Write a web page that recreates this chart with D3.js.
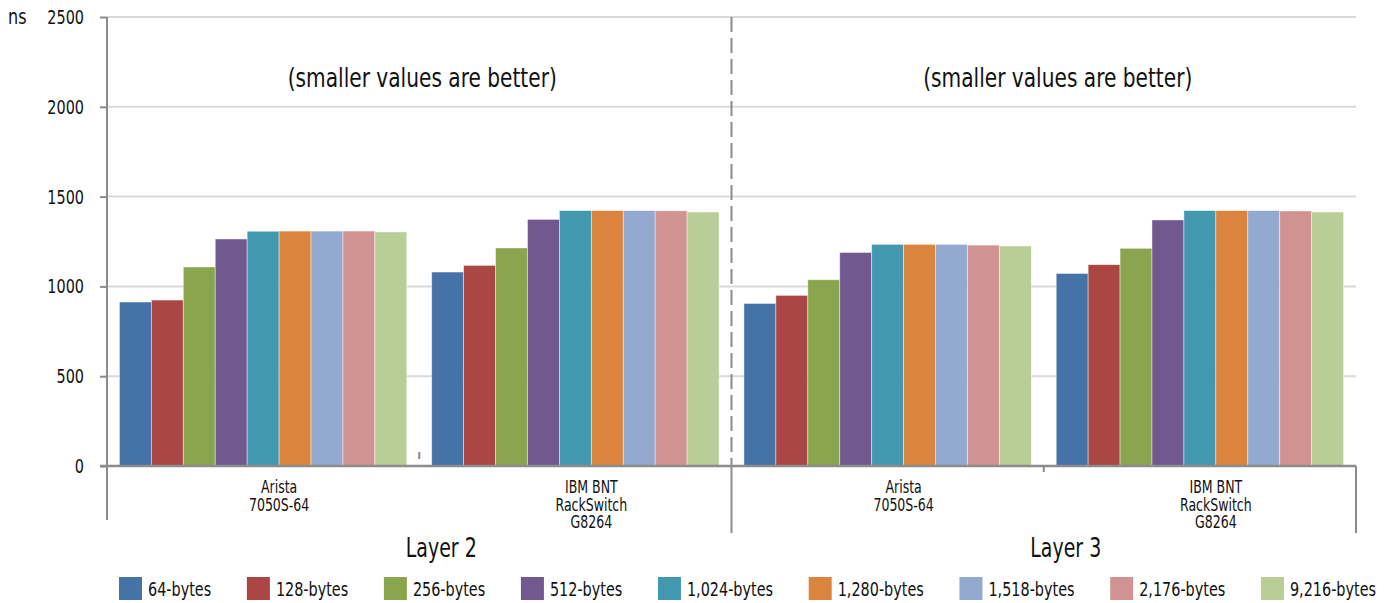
<!DOCTYPE html>
<html>
<head>
<meta charset="utf-8">
<script src="https://cdn.jsdelivr.net/npm/d3@7"></script>
<style>
  html, body { margin: 0; padding: 0; background: #fff; }
  svg { display: block; font-family: "Liberation Sans Narrow", "DejaVu Sans Condensed", "Roboto", sans-serif; }
</style>
</head>
<body>
<svg id="chart" width="1390" height="603"></svg>
<script>
// ---------- DATA ----------
const layers = ["Layer 2", "Layer 3"];
const devices = [["Arista", "7050S-64"], ["IBM BNT", "RackSwitch", "G8264"]];
const categories = ["L2-Arista", "L2-IBM", "L3-Arista", "L3-IBM"];
const series = ["64-bytes", "128-bytes", "256-bytes", "512-bytes", "1,024-bytes", "1,280-bytes", "1,518-bytes", "2,176-bytes", "9,216-bytes"];
const l2Arista = [913, 924, 1108, 1264, 1307, 1308, 1308, 1308, 1303];
const l2IBM    = [1080, 1117, 1214, 1373, 1422, 1422, 1422, 1421, 1414];
const l3Arista = [905, 950, 1037, 1189, 1234, 1234, 1234, 1230, 1225];
const l3IBM    = [1072, 1121, 1212, 1370, 1422, 1422, 1422, 1420, 1414];
const yTicks = [0, 500, 1000, 1500, 2000, 2500];
const yUnit = "ns";
const note = "(smaller values are better)";
const colors = ["#4572a7", "#aa4643", "#89a54e", "#71588f", "#4198af", "#db843d", "#93a9cf", "#d19392", "#b9cd96"];

const values = [l2Arista, l2IBM, l3Arista, l3IBM];

// ---------- LAYOUT ----------
const svg = d3.select("#chart");
const plotL = 107, plotR = 1356, plotT = 17, plotB = 466;

const x0 = d3.scaleBand().domain(categories).range([plotL, plotR]).padding(0);
const x1 = d3.scaleBand().domain(series).range([0, x0.bandwidth()]).paddingInner(0).paddingOuter(0.39);
const y = d3.scaleLinear().domain([0, 2500]).range([plotB, plotT]);
const color = d3.scaleOrdinal().domain(series).range(colors);
const gridColor = "#d9d9d9", axisColor = "#8c8c8c";

// horizontally condense text (the original uses a condensed typeface)
function condense(sel, f) {
  sel.each(function () {
    const w = this.getComputedTextLength();
    d3.select(this).attr("textLength", w * f).attr("lengthAdjust", "spacingAndGlyphs");
  });
}

// gridlines
svg.append("g").selectAll("line").data(yTicks.filter(d => d > 0)).join("line")
  .attr("x1", plotL).attr("x2", plotR)
  .attr("y1", d => y(d)).attr("y2", d => y(d))
  .attr("stroke", gridColor).attr("stroke-width", 2);

// y axis
const yAxis = svg.append("g").attr("transform", `translate(${plotL},0)`)
  .call(d3.axisLeft(y).tickValues(yTicks).tickSize(7).tickPadding(16).tickFormat(d3.format("d")));
yAxis.select(".domain").remove();
yAxis.selectAll(".tick line").attr("stroke", axisColor).attr("stroke-width", 2);
yAxis.selectAll(".tick text").attr("font-size", 20).attr("fill", "#111")
  .attr("font-family", "Liberation Sans Narrow, DejaVu Sans Condensed, sans-serif");
condense(yAxis.selectAll(".tick text"), 0.8);
condense(svg.append("text").attr("x", 8).attr("y", y(2500)).attr("dy", "0.35em")
  .attr("font-size", 21).attr("fill", "#111").text(yUnit), 0.85);

// bars
const groups = svg.append("g").selectAll("g").data(categories).join("g")
  .attr("transform", d => `translate(${x0(d)},0)`);
groups.selectAll("rect").data((c, i) => series.map((s, j) => ({ s, v: values[i][j] }))).join("rect")
  .attr("x", d => x1(d.s)).attr("width", x1.bandwidth())
  .attr("y", d => y(d.v)).attr("height", d => y(0) - y(d.v))
  .attr("fill", d => color(d.s))
  .attr("stroke", "#ffffff").attr("stroke-opacity", 0.55).attr("stroke-width", 0.8);

// left axis line (extends into label area)
svg.append("line").attr("x1", plotL).attr("x2", plotL).attr("y1", plotT).attr("y2", 520)
  .attr("stroke", axisColor).attr("stroke-width", 2);
// baseline
svg.append("line").attr("x1", plotL - 7).attr("x2", plotR).attr("y1", y(0)).attr("y2", y(0))
  .attr("stroke", axisColor).attr("stroke-width", 2.5);

// separator between layers: dashed above axis, solid below
const mid = x0(categories[2]);
svg.append("line").attr("x1", mid).attr("x2", mid).attr("y1", plotT).attr("y2", y(0))
  .attr("stroke", axisColor).attr("stroke-width", 2).attr("stroke-dasharray", "15,6");
svg.append("line").attr("x1", mid).attr("x2", mid).attr("y1", y(0)).attr("y2", 533)
  .attr("stroke", axisColor).attr("stroke-width", 2);
svg.append("line").attr("x1", plotR).attr("x2", plotR).attr("y1", y(0)).attr("y2", 533)
  .attr("stroke", axisColor).attr("stroke-width", 2);
// small tick between devices of layer 3, small mark in layer 2
svg.append("line").attr("x1", x0(categories[3])).attr("x2", x0(categories[3])).attr("y1", y(0)).attr("y2", 472)
  .attr("stroke", axisColor).attr("stroke-width", 2);
svg.append("line").attr("x1", x0(categories[1])).attr("x2", x0(categories[1])).attr("y1", 452).attr("y2", 459)
  .attr("stroke", axisColor).attr("stroke-width", 2);

// category labels
categories.forEach((c, i) => {
  const lines = devices[i % 2];
  const t = svg.append("text").attr("text-anchor", "middle").attr("font-size", 17).attr("fill", "#111");
  lines.forEach((ln, k) => {
    t.append("tspan").attr("x", x0(c) + x0.bandwidth() / 2 + 16).attr("y", 493 + k * 17.5).text(ln);
  });
  condense(t.selectAll("tspan"), 0.82);
});

// layer labels and notes
const noteShift = [3, 14];
layers.forEach((l, i) => {
  const cx = x0(categories[i * 2]) + x0.bandwidth();
  condense(svg.append("text").attr("x", cx + 22).attr("y", 557).attr("text-anchor", "middle")
    .attr("font-size", 27).attr("fill", "#111").text(l), 0.78);
  condense(svg.append("text").attr("x", cx + noteShift[i]).attr("y", 87).attr("text-anchor", "middle")
    .attr("font-size", 27).attr("fill", "#111").text(note), 0.83);
});

// legend (flow layout spread between 119 and 1376)
const leg = svg.append("g");
const items = series.map((s, i) => {
  const g = leg.append("g");
  g.append("rect").attr("width", 23).attr("height", 23).attr("y", 577).attr("fill", color(s));
  const t = g.append("text").attr("x", 29).attr("y", 596).attr("font-size", 20).attr("fill", "#111").text(s);
  const w0 = t.node().getComputedTextLength();
  condense(t, 0.8);
  return { g, w: 29 + w0 * 0.8 };
});
const totalW = d3.sum(items, d => d.w);
const gap = (1376 - 119 - totalW) / (items.length - 1);
let lx = 119;
items.forEach(it => { it.g.attr("transform", `translate(${lx},0)`); lx += it.w + gap; });
</script>
</body>
</html>
